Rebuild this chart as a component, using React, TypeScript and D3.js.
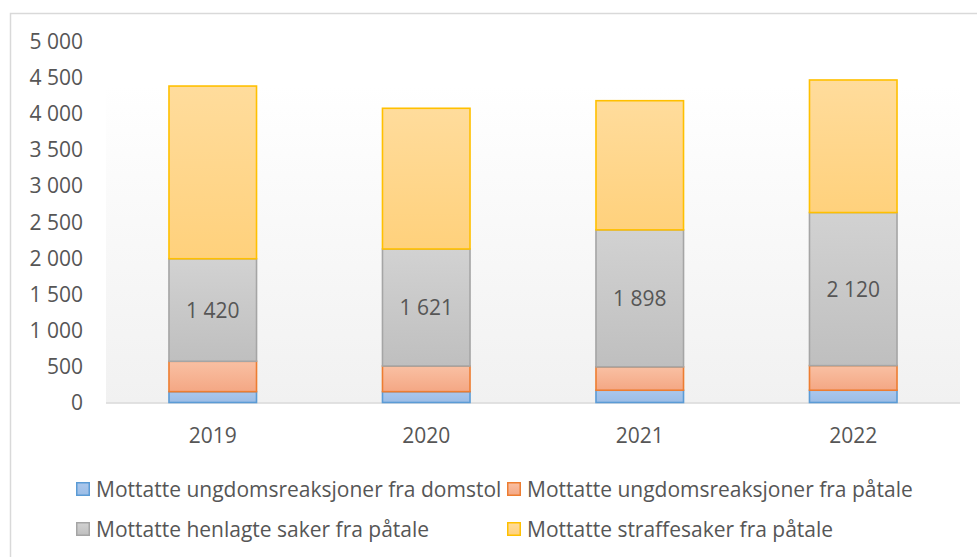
import React from "react";
import * as d3 from "d3";

const years = ["2019", "2020", "2021", "2022"];
const fraDomstol = [150, 150, 170, 170];
const ungFraPatale = [421, 355, 323, 341];
const henlagte = [1420, 1621, 1898, 2120];
const straffesaker = [2392, 1949, 1789, 1836];
const yTicks = [0, 500, 1000, 1500, 2000, 2500, 3000, 3500, 4000, 4500, 5000];

const seriesNames = [
  "Mottatte ungdomsreaksjoner fra domstol",
  "Mottatte ungdomsreaksjoner fra påtale",
  "Mottatte henlagte saker fra påtale",
  "Mottatte straffesaker fra påtale",
];

const colors = [
  { top: "#abc7ec", bottom: "#9bbde6", stroke: "#5b9bd5" },
  { top: "#f9c0a3", bottom: "#f4a784", stroke: "#ed7d31" },
  { top: "#d2d2d2", bottom: "#bfbfbf", stroke: "#a5a5a5" },
  { top: "#ffdc9c", bottom: "#ffd17c", stroke: "#ffc000" },
];

const W = 977;
const H = 557;
const margin = { left: 106, right: 17, top: 41.5, bottom: 154.5 };
const font = "'Open Sans', sans-serif";
const textColor = "#565656";
const fs = 21;

const fmt = (v: number) => d3.format(",")(v).replace(/,/g, " ");

const App: React.FC = () => {
  const x = d3
    .scaleBand()
    .domain(years)
    .range([margin.left, W - margin.right])
    .paddingInner(0.59)
    .paddingOuter(0.295);

  const y = d3
    .scaleLinear()
    .domain([0, 5000])
    .range([H - margin.bottom, margin.top]);

  const rows = years.map((yr, i) => ({
    year: yr,
    s0: fraDomstol[i],
    s1: ungFraPatale[i],
    s2: henlagte[i],
    s3: straffesaker[i],
  }));
  const stack = d3.stack<any>().keys(["s0", "s1", "s2", "s3"])(rows);

  const legendPos = [
    { x: 76, y: 489 },
    { x: 507, y: 489 },
    { x: 76, y: 529 },
    { x: 507, y: 529 },
  ];

  return (
    <svg width={W} height={H} style={{ display: "block", position: "absolute", left: 0, top: 0 }}>
      <defs>
        <linearGradient id="plotBg" x1="0" y1="0" x2="0" y2="1">
          <stop offset="0" stopColor="#ffffff" />
          <stop offset="0.12" stopColor="#ffffff" />
          <stop offset="1" stopColor="#f1f1f1" />
        </linearGradient>
        {colors.map((c, i) => (
          <linearGradient key={i} id={`g${i}`} x1="0" y1="0" x2="0" y2="1">
            <stop offset="0" stopColor={c.top} />
            <stop offset="1" stopColor={c.bottom} />
          </linearGradient>
        ))}
      </defs>
      <rect x={0} y={0} width={W} height={H} fill="#ffffff" />
      <rect x={10.5} y={13.5} width={W + 20} height={H + 20} fill="none" stroke="#d9d9d9" strokeWidth={1.5} />
      <rect
        x={margin.left}
        y={margin.top}
        width={W - margin.left - margin.right}
        height={H - margin.top - margin.bottom}
        fill="url(#plotBg)"
      />
      <line
        x1={margin.left}
        x2={W - margin.right}
        y1={y(0) + 0.5}
        y2={y(0) + 0.5}
        stroke="#d9d9d9"
        strokeWidth={1.5}
      />
      {yTicks.map((t) => (
        <text
          key={t}
          x={83}
          y={y(t)}
          dy="0.36em"
          textAnchor="end"
          fontFamily={font}
          fontSize={fs}
          fill={textColor}
        >
          {fmt(t)}
        </text>
      ))}
      {stack.map((layer, li) => (
        <g key={li}>
          {layer.map((d, i) => (
            <rect
              key={i}
              x={x(years[i])!}
              y={y(d[1])}
              width={x.bandwidth()}
              height={y(d[0]) - y(d[1])}
              fill={`url(#g${li})`}
              stroke={colors[li].stroke}
              strokeWidth={1.6}
            />
          ))}
        </g>
      ))}
      {stack[2].map((d, i) => (
        <text
          key={i}
          x={x(years[i])! + x.bandwidth() / 2}
          y={(y(d[0]) + y(d[1])) / 2}
          dy="0.36em"
          textAnchor="middle"
          fontFamily={font}
          fontSize={fs}
          fill={textColor}
        >
          {fmt(henlagte[i])}
        </text>
      ))}
      {years.map((yr) => (
        <text
          key={yr}
          x={x(yr)! + x.bandwidth() / 2}
          y={435}
          dy="0.36em"
          textAnchor="middle"
          fontFamily={font}
          fontSize={fs}
          fill={textColor}
        >
          {yr}
        </text>
      ))}
      {seriesNames.map((name, i) => (
        <g key={name} transform={`translate(${legendPos[i].x},${legendPos[i].y})`}>
          <rect
            x={0.75}
            y={-6.25}
            width={12.5}
            height={12.5}
            fill={`url(#g${i})`}
            stroke={colors[i].stroke}
            strokeWidth={1.5}
          />
          <text x={20} y={0} dy="0.36em" fontFamily={font} fontSize={fs} fill={textColor}>
            {name}
          </text>
        </g>
      ))}
    </svg>
  );
};

export default App;
